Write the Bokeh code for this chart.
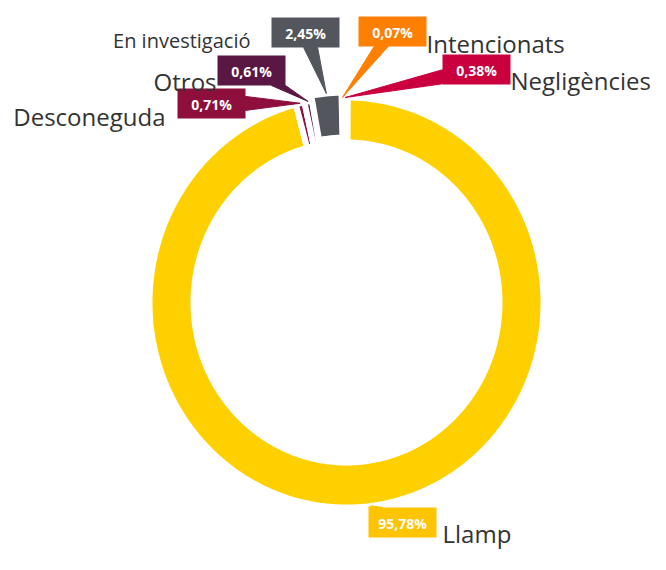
import numpy as np
from bokeh.plotting import figure
from bokeh.models import Range1d
from bokeh.core.properties import value
from bokeh.embed import file_html
from bokeh.resources import INLINE

# ---------------- data ----------------
categories = ["Llamp", "Desconeguda", "Otros", "En investigació", "Intencionats", "Negligències"]
percentages = [95.78, 0.71, 0.61, 2.45, 0.07, 0.38]
pct_labels = ["95,78%", "0,71%", "0,61%", "2,45%", "0,07%", "0,38%"]
slice_colors = ["#FFD000", "#8E0E3C", "#5B1744", "#53575D", "#FF7F00", "#C9003D"]
box_colors = ["#FFC400", "#8E0E3C", "#5B1744", "#53575D", "#FF7F00", "#C9003D"]
sliced = [False, False, False, True, False, False]

# ---------------- layout ----------------
W, H = 650, 554
CX, CY = 346, 302
RX_OUT, RY_OUT = 197, 205
RX_IN, RY_IN = 153, 160
START_DEG = 0.3
SLICE_OFFSET = 5
BOX_W, BOX_H = 68, 30
FONT = "Open Sans"
TEXT_COLOR = "#333333"
label_layout = {
    "Llamp":           dict(x=368, y=507, side="right", gap=6,  size=24, base=26),
    "Desconeguda":     dict(x=177, y=88,  side="left",  gap=12, size=24, base=28),
    "Otros":           dict(x=217, y=55,  side="left",  gap=1,  size=24, base=26),
    "En investigació": dict(x=271, y=17,  side="left",  gap=21, size=20, base=23),
    "Intencionats":    dict(x=358, y=16,  side="right", gap=0,  size=24, base=27),
    "Negligències":    dict(x=442, y=54,  side="right", gap=0,  size=24, base=26),
}

p = figure(width=W, height=H, output_backend="svg", toolbar_location=None,
           x_range=Range1d(0, W), y_range=Range1d(H, 0),
           x_axis_location=None, y_axis_location=None, min_border=0,
           tools="")
p.grid.visible = False
p.outline_line_color = None
p.background_fill_color = "white"
p.border_fill_color = "white"


def ell(theta, rx, ry, ox=0.0, oy=0.0):
    return CX + ox + rx * np.sin(theta), CY + oy - ry * np.cos(theta)


total = sum(percentages)
xs, ys, tips = [], [], []
a = np.radians(START_DEG)
for v, s in zip(percentages, sliced):
    span = 2 * np.pi * v / total
    a0, a1 = a, a + span
    mid = (a0 + a1) / 2
    ox = oy = 0.0
    if s:
        ox, oy = SLICE_OFFSET * np.sin(mid), -SLICE_OFFSET * np.cos(mid)
    t = np.linspace(a0, a1, max(4, int(np.degrees(span) * 2)))
    x_o, y_o = ell(t, RX_OUT, RY_OUT, ox, oy)
    x_i, y_i = ell(t[::-1], RX_IN, RY_IN, ox, oy)
    xs.append(list(np.concatenate([x_o, x_i])))
    ys.append(list(np.concatenate([y_o, y_i])))
    tips.append(ell(mid, RX_OUT, RY_OUT, ox, oy))
    a = a1

p.patches(xs=xs, ys=ys, fill_color=slice_colors, line_color="white", line_width=6)


def callout(bx, by, w, h, tx, ty, half=7):
    cx, cy = bx + w / 2, by + h / 2
    dx, dy = tx - cx, ty - cy
    sx = (w / 2) / abs(dx) if dx else np.inf
    sy = (h / 2) / abs(dy) if dy else np.inf
    if sx < sy:
        ex, ey = cx + dx * sx, cy + dy * sx
        y0 = min(max(ey - half, by), by + h - 2 * half)
        return [ex, ex, tx], [y0, y0 + 2 * half, ty]
    ex, ey = cx + dx * sy, cy + dy * sy
    x0 = min(max(ex - half, bx), bx + w - 2 * half)
    return [x0, x0 + 2 * half, tx], [ey, ey, ty]


for cat, lab, col, tip in zip(categories, pct_labels, box_colors, tips):
    L = label_layout[cat]
    bx, by = L["x"], L["y"]
    px, py = callout(bx, by, BOX_W, BOX_H, tip[0], tip[1])
    p.patch(px, py, fill_color=col, line_color=col, line_width=1)
    p.quad(left=bx, right=bx + BOX_W, top=by, bottom=by + BOX_H,
           fill_color=col, line_color=None)
    p.text(x=[bx + BOX_W / 2], y=[by + BOX_H / 2 + 1], text=[lab],
           text_font=value(FONT), text_font_style="bold", text_font_size="14px",
           text_color="white", text_align="center", text_baseline="middle")
    if L["side"] == "right":
        tx, align = bx + BOX_W + L["gap"], "left"
    else:
        tx, align = bx - L["gap"], "right"
    p.text(x=[tx], y=[by + L["base"]], text=[cat],
           text_font=value(FONT), text_font_size=f"{L['size']}px",
           text_color=TEXT_COLOR, text_align=align, text_baseline="alphabetic")

open("out.html", "w").write(file_html(p, INLINE))
